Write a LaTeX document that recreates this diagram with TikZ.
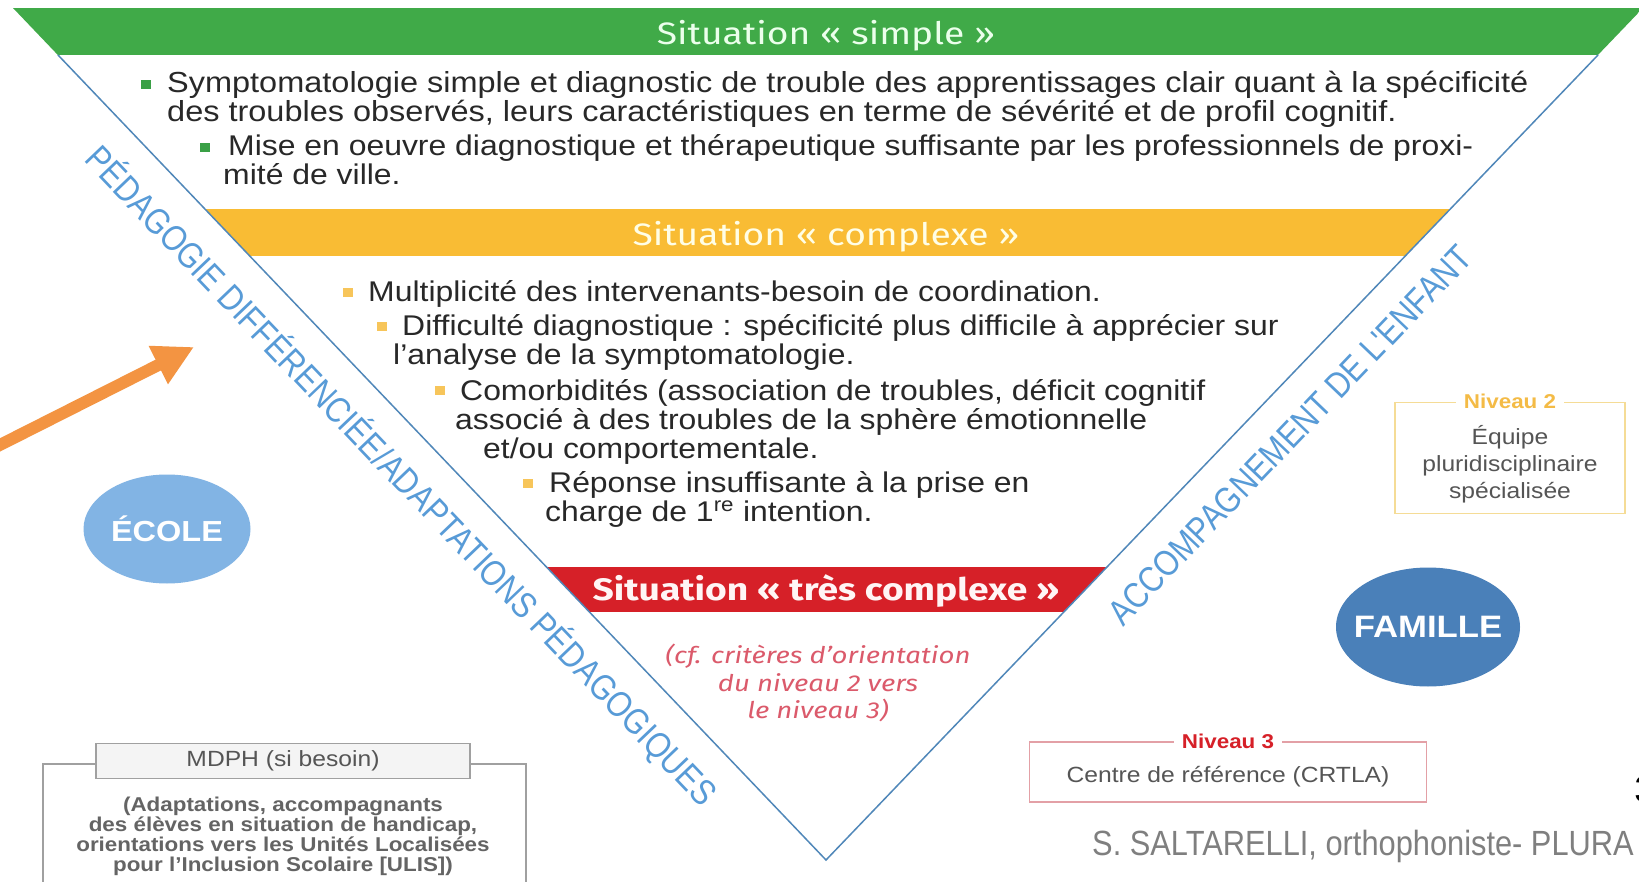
\documentclass[tikz,border=0pt]{standalone}
\usepackage{fontspec}
\setmainfont{Liberation Sans}
\newfontfamily\corps[FakeStretch=1.12]{Liberation Sans}
\newfontfamily\titre[FakeStretch=1.2]{Fira Sans}
\newfontfamily\etroit[FakeStretch=0.85]{Liberation Sans}
\newfontfamily\signat[FakeStretch=0.88]{Liberation Sans}
\usetikzlibrary{arrows.meta,positioning,shapes.geometric}
\definecolor{vertsit}{RGB}{64,170,72}
\definecolor{jaunesit}{RGB}{249,188,52}
\definecolor{rougesit}{RGB}{214,32,40}
\definecolor{vertpuce}{RGB}{58,160,70}
\definecolor{jaunepuce}{RGB}{247,197,90}
\definecolor{bleuV}{RGB}{80,135,185}
\definecolor{bleutexte}{RGB}{88,155,215}
\definecolor{ecole}{RGB}{130,180,228}
\definecolor{famille}{RGB}{74,128,185}
\definecolor{orangefl}{RGB}{243,148,66}
\definecolor{texte}{RGB}{40,40,40}
\definecolor{gristexte}{RGB}{85,85,85}
\definecolor{grismdph}{RGB}{100,100,100}
\definecolor{grisbord}{RGB}{160,160,160}
\definecolor{grisfond}{RGB}{244,244,244}
\definecolor{jauneniv}{RGB}{245,220,150}
\definecolor{orangeniv}{RGB}{244,187,70}
\definecolor{roseniv}{RGB}{227,160,166}
\definecolor{roseital}{RGB}{219,90,107}
\definecolor{grissignat}{RGB}{127,127,127}

\begin{document}
\begin{tikzpicture}[x=1pt, y=-1pt,
  bandeau/.style={inner sep=0pt, font=\titre\fontsize{31}{31}\selectfont},
  puce/.style={fill=#1, minimum width=10pt, minimum height=9pt, inner sep=0pt},
  item/.style={anchor=base west, align=left, inner sep=0pt, text=texte, font=\corps\fontsize{28.5}{29}\selectfont},
  cote/.style={inner sep=0pt, text=bleutexte, font=\etroit\fontsize{36}{36}\selectfont},
  pole/.style={ellipse, inner ysep=0pt, inner xsep=-18pt, text=white, font=\corps\bfseries\fontsize{29}{29}\selectfont},
  niveau/.style={draw, line width=1.5pt, inner sep=0pt},
  nivtexte/.style={align=center, inner sep=0pt, text=gristexte, font=\corps\fontsize{22}{27}\selectfont},
  nivtitre/.style={fill=white, inner xsep=8pt, inner ysep=1pt, font=\corps\bfseries\fontsize{20}{20}\selectfont},
  arr/.style={-{Triangle[length=40pt, width=40pt]}, line width=12pt, orangefl}
]
\useasboundingbox[fill=white] (0,0) rectangle (1639,882);
\clip (0,0) rectangle (1639,882);

% le V
\coordinate (hg) at (13,8);
\coordinate (hd) at (1643,8);
\coordinate (pointe) at (826,860);
\coordinate (vg) at (58,55);
\coordinate (vd) at (1598,55);

\begin{scope}
  \clip (hg) -- (hd) -- (pointe) -- cycle;
  \fill[vertsit] (0,8) rectangle (1639,55);
  \fill[jaunesit] (0,209) rectangle (1639,256);
  \fill[rougesit] (0,567) rectangle (1639,612);
\end{scope}
\draw[bleuV, line width=1.5pt] (vg) -- (pointe) -- (vd);

\node[bandeau, text=green!8] (tsimple) at (826,36) {Situation « simple »};
\node[bandeau, text=yellow!10] (tcomplexe) at (826,237) {Situation « complexe »};
\node[bandeau, text=red!4, font=\titre\bfseries\fontsize{31}{31}\selectfont] (ttres) at (826,591) {Situation « très complexe »};

% situation simple
\node[puce=vertpuce] (pv1) at (146,85) {};
\node[item, font=\corps\fontsize{29}{29}\selectfont] (s1) at (167,122) {Symptomatologie simple et diagnostic de trouble des apprentissages clair quant à la spécificité\\des troubles observés, leurs caractéristiques en terme de sévérité et de profil cognitif.};
\node[puce=vertpuce] (pv2) at (205,148) {};
\node[item] (s2) at (228,185) {Mise en oeuvre diagnostique et thérapeutique suffisante par les professionnels de proxi-\\\hspace*{-5pt}mité de ville.};

% situation complexe
\node[puce=jaunepuce] (pj1) at (348,293) {};
\node[item] (c1) at (368,302) {Multiplicité des intervenants-besoin de coordination.};
\node[puce=jaunepuce] (pj2) at (382,327) {};
\node[item] (c2) at (402,365) {Difficulté diagnostique : spécificité plus difficile à apprécier sur\\\hspace*{-9pt}l’analyse de la symptomatologie.};
\node[puce=jaunepuce] (pj3) at (440,391) {};
\node[item] (c3) at (460,458) {Comorbidités (association de troubles, déficit cognitif\\\hspace*{-5pt}associé à des troubles de la sphère émotionnelle\\\hspace*{23pt}et/ou comportementale.};
\node[puce=jaunepuce] (pj4) at (528,483) {};
\node[item] (c4) at (549,521) {Réponse insuffisante à la prise en\\\hspace*{-4pt}charge de 1\textsuperscript{re} intention.};

% situation tres complexe
\node[align=center, inner sep=0pt, text=roseital, font=\titre\itshape\fontsize{23}{27.5}\selectfont] (criteres) at (818,683) {(cf. critères d’orientation\\du niveau 2 vers\\le niveau 3)};

% textes le long du V
\node[cote, rotate=-46.3] (pedago) at (401,476) {PÉDAGOGIE DIFFÉRENCIÉE/ADAPTATIONS PÉDAGOGIQUES};
\node[cote, rotate=46.3] (accomp) at (1290,435) {ACCOMPAGNEMENT DE L'ENFANT};

% ecole et famille
\node[pole, fill=ecole, minimum width=167pt, minimum height=109pt] (ecole) at (167,529) {ÉCOLE};
\node[pole, fill=famille, minimum width=184pt, minimum height=119pt, font=\corps\bfseries\fontsize{31}{31}\selectfont] (famille) at (1428,627) {FAMILLE};

% niveaux
\node[niveau, draw=jauneniv, minimum width=230pt, minimum height=111pt] (niv2) at (1510,458) {};
\node[nivtexte] (equipe) at (1510,464) {Équipe\\pluridisciplinaire\\spécialisée};
\node[nivtitre, text=orangeniv] (n2) at (niv2.north) {Niveau 2};
\node[niveau, draw=roseniv, minimum width=397pt, minimum height=60pt] (niv3) at (1228,772) {};
\node[nivtexte] (crtla) at (1228,777) {Centre de référence (CRTLA)};
\node[nivtitre, text=rougesit] (n3) at (niv3.north) {Niveau 3};

% MDPH
\node[draw=grisbord, line width=1.5pt, anchor=north west, minimum width=483pt, minimum height=160pt] (mdphcadre) at (42,763) {};
\node[draw=grisbord, fill=grisfond, line width=1.5pt, minimum width=374pt, minimum height=35pt, inner sep=0pt, text=gristexte, font=\corps\fontsize{22}{22}\selectfont] (mdph) at (283,761) {MDPH (si besoin)};
\node[below=18pt of mdph, align=center, inner sep=0pt, text=grismdph, font=\corps\bfseries\fontsize{20}{20}\selectfont] (mdphtexte) {(Adaptations, accompagnants\\des élèves en situation de handicap,\\orientations vers les Unités Localisées\\pour l’Inclusion Scolaire [ULIS])};

% fleche
\coordinate (depart) at (-20,455);
\coordinate (cible) at (194,347);
\draw[arr] (depart) -- (cible);

% signature
\node[anchor=base west, inner sep=0pt, text=grissignat, font=\signat\fontsize{35}{35}\selectfont] (auteur) at (1092,855) {S. SALTARELLI, orthophoniste- PLURA};
\node[anchor=base west, inner sep=0pt, font=\corps\fontsize{38}{38}\selectfont] (page) at (1634,802) {3};
\end{tikzpicture}
\end{document}
